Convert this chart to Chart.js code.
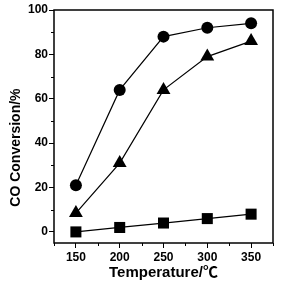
<!DOCTYPE html>
<html>
<head>
<meta charset="utf-8">
<script src="https://cdn.jsdelivr.net/npm/chart.js@4"></script>
<style>
  html, body { margin: 0; padding: 0; background: #fff; }
  #wrap { width: 281px; height: 286px; }
</style>
</head>
<body>
<div id="wrap"><canvas id="coChart" width="281" height="286"></canvas></div>
<script>
// temperatures (x) and CO conversion (%) for each catalyst
const temperatures = [150, 200, 250, 300, 350];
const circleSeries = [21, 64, 88, 92, 94];
const triangleSeries = [8.5, 31, 64, 79, 86];
const squareSeries = [0, 2, 4, 6, 8];
const xTicks = [150, 200, 250, 300, 350];
const yTicks = [0, 20, 40, 60, 80, 100];
const xMinorTicks = [125, 175, 225, 275, 325, 375];
const yMinorTicks = [10, 30, 50, 70, 90];
const yTitle = 'CO Conversion/%';

const FONT = "'Liberation Sans', Arial, 'Noto Sans CJK SC', sans-serif";

const toPoints = (ys) => temperatures.map((t, i) => ({ x: t, y: ys[i] }));

// draws the box around the plot, the short minor ticks and the y title
const framePlugin = {
  id: 'frame',
  afterDraw(chart) {
    const { ctx, chartArea: a, scales } = chart;
    ctx.save();
    ctx.strokeStyle = '#000';
    ctx.lineWidth = 1.5;
    ctx.strokeRect(a.left, a.top, a.right - a.left, a.bottom - a.top);
    ctx.lineWidth = 1;
    ctx.beginPath();
    xMinorTicks.forEach((v) => {
      const px = Math.round(scales.x.getPixelForValue(v)) + 0.5;
      ctx.moveTo(px, a.bottom);
      ctx.lineTo(px, a.bottom + 3);
    });
    yMinorTicks.forEach((v) => {
      const py = Math.round(scales.y.getPixelForValue(v)) + 0.5;
      ctx.moveTo(a.left, py);
      ctx.lineTo(a.left - 3, py);
    });
    ctx.stroke();

    // y title sits a bit lower than the axis centre in the original
    ctx.translate(20, scales.y.getPixelForValue(38));
    ctx.rotate(-Math.PI / 2);
    ctx.fillStyle = '#000';
    ctx.font = 'bold 14px ' + FONT;
    ctx.textAlign = 'center';
    ctx.textBaseline = 'alphabetic';
    ctx.fillText(yTitle, 0, 0);
    ctx.restore();
  }
};

const baseSet = {
  showLine: true,
  borderColor: '#000',
  backgroundColor: '#000',
  borderWidth: 1.2,
  pointBorderWidth: 0,
  tension: 0
};

new Chart(document.getElementById('coChart'), {
  type: 'scatter',
  data: {
    datasets: [
      { ...baseSet, data: toPoints(circleSeries), pointStyle: 'circle', pointRadius: 6 },
      { ...baseSet, data: toPoints(triangleSeries), pointStyle: 'triangle', pointRadius: 8 },
      { ...baseSet, data: toPoints(squareSeries), pointStyle: 'rect', pointRadius: 7.8 }
    ]
  },
  options: {
    responsive: false,
    animation: false,
    layout: { padding: { top: 10, right: 7, left: 0, bottom: 0 } },
    plugins: { legend: { display: false }, tooltip: { enabled: false } },
    scales: {
      x: {
        type: 'linear',
        min: 125,
        max: 375,
        afterBuildTicks: (s) => { s.ticks = xTicks.map((v) => ({ value: v })); },
        afterFit: (s) => { s.height = 43; },
        grid: { drawOnChartArea: false, tickLength: 5, color: '#000', lineWidth: 1 },
        border: { display: false },
        ticks: { color: '#000', padding: 2, maxRotation: 0, font: { family: FONT, size: 12, weight: 'bold' } },
        title: { display: true, text: 'Temperature/℃', color: '#000', padding: { top: 1 }, font: { family: FONT, size: 15, weight: 'bold' } }
      },
      y: {
        type: 'linear',
        min: -5,
        max: 100,
        afterBuildTicks: (s) => { s.ticks = yTicks.map((v) => ({ value: v })); },
        afterFit: (s) => { s.width = 54; },
        grid: { drawOnChartArea: false, tickLength: 5, color: '#000', lineWidth: 1 },
        border: { display: false },
        ticks: { color: '#000', padding: 1, font: { family: FONT, size: 12, weight: 'bold' } },
        title: { display: false }
      }
    }
  },
  plugins: [framePlugin]
});
</script>
</body>
</html>
